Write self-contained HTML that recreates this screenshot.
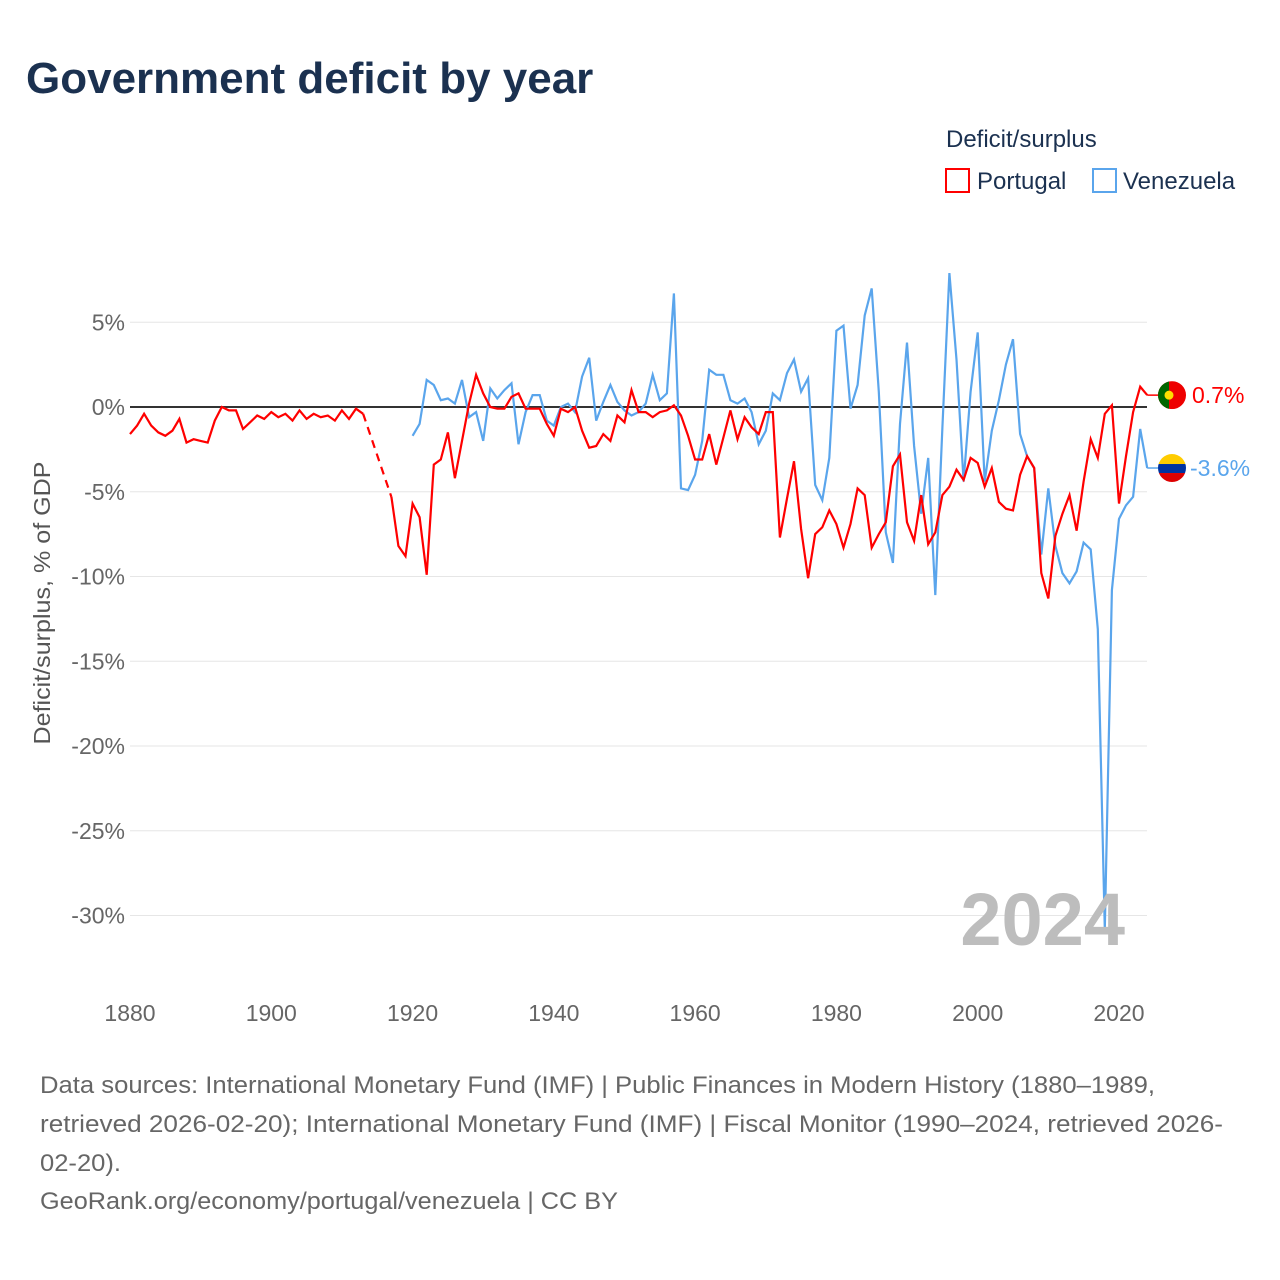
<!DOCTYPE html>
<html><head><meta charset="utf-8"><style>
body{margin:0;width:1280px;height:1280px;background:#fff;font-family:"Liberation Sans",sans-serif;overflow:hidden}
</style></head><body>
<svg width="1280" height="1280" style="position:absolute;left:0;top:0;font-family:'Liberation Sans',sans-serif">
<text x="26" y="93" font-size="44" font-weight="bold" fill="#1b3150">Government deficit by year</text>
<text x="946" y="147" font-size="24" fill="#1b3150">Deficit/surplus</text>
<g><rect x="946" y="169" width="23" height="23" fill="none" stroke="#f00" stroke-width="2"/><text x="977" y="189" font-size="24" fill="#1b3150">Portugal</text></g>
<g><rect x="1093" y="169" width="23" height="23" fill="none" stroke="#5aa5ec" stroke-width="2"/><text x="1123" y="189" font-size="24" fill="#1b3150">Venezuela</text></g>
<g id="grid"></g><g id="series"></g>
<text x="1125" y="945" font-size="74" font-weight="bold" fill="#bdbdbd" text-anchor="end">2024</text>
<text transform="translate(50,603) rotate(-90)" font-size="23" fill="#555" text-anchor="middle" textLength="283" lengthAdjust="spacingAndGlyphs">Deficit/surplus, % of GDP</text>
<g font-size="24" fill="#666">
<text x="40" y="1093" textLength="1115" lengthAdjust="spacingAndGlyphs">Data sources: International Monetary Fund (IMF) | Public Finances in Modern History (1880–1989,</text>
<text x="40" y="1132" textLength="1183" lengthAdjust="spacingAndGlyphs">retrieved 2026-02-20); International Monetary Fund (IMF) | Fiscal Monitor (1990–2024, retrieved 2026-</text>
<text x="40" y="1171" textLength="81" lengthAdjust="spacingAndGlyphs">02-20).</text>
<text x="40" y="1209" textLength="578" lengthAdjust="spacingAndGlyphs">GeoRank.org/economy/portugal/venezuela | CC BY</text>
</g>
</svg>
<script>
const yTicks=[5,0,-5,-10,-15,-20,-25,-30];
const xTicks=[1880,1900,1920,1940,1960,1980,2000,2020];
const ptA=[-1.6,-1.1,-0.4,-1.1,-1.5,-1.7,-1.4,-0.7,-2.1,-1.9,-2.0,-2.1,-0.8,0.0,-0.2,-0.2,-1.3,-0.9,-0.5,-0.7,-0.3,-0.6,-0.4,-0.8,-0.2,-0.7,-0.4,-0.6,-0.5,-0.8,-0.2,-0.7,-0.1,-0.4];
const ptB=[-5.3,-8.2,-8.8,-5.7,-6.5,-9.9,-3.4,-3.1,-1.5,-4.2,-2.0,0.2,1.9,0.8,0.0,-0.1,-0.1,0.6,0.8,-0.1,-0.1,-0.1,-1.0,-1.7,-0.1,-0.3,0.0,-1.4,-2.4,-2.3,-1.6,-2.0,-0.5,-0.9,1.0,-0.3,-0.3,-0.6,-0.3,-0.2,0.1,-0.5,-1.7,-3.1,-3.1,-1.6,-3.4,-1.8,-0.2,-1.9,-0.6,-1.2,-1.6,-0.3,-0.3,-7.7,-5.4,-3.2,-7.2,-10.1,-7.5,-7.1,-6.1,-6.9,-8.3,-6.9,-4.8,-5.2,-8.3,-7.5,-6.8,-3.5,-2.8,-6.8,-7.9,-5.2,-8.1,-7.4,-5.2,-4.7,-3.7,-4.3,-3.0,-3.3,-4.7,-3.6,-5.6,-6.0,-6.1,-4.0,-2.9,-3.6,-9.8,-11.3,-7.6,-6.3,-5.2,-7.3,-4.4,-1.9,-3.0,-0.4,0.1,-5.7,-2.9,-0.3,1.2,0.7];
const ve=[-1.7,-1.0,1.6,1.3,0.4,0.5,0.2,1.6,-0.6,-0.3,-2.0,1.1,0.5,1.0,1.4,-2.2,-0.3,0.7,0.7,-0.8,-1.1,0.0,0.2,-0.3,1.8,2.9,-0.8,0.3,1.3,0.3,-0.2,-0.5,-0.3,0.2,1.9,0.4,0.8,6.7,-4.8,-4.9,-4.0,-2.0,2.2,1.9,1.9,0.4,0.2,0.5,-0.3,-2.2,-1.4,0.8,0.4,2.0,2.8,0.9,1.7,-4.6,-5.5,-3.0,4.5,4.8,-0.1,1.3,5.4,7.0,0.9,-7.4,-9.2,-1.0,3.8,-2.3,-6.3,-3.0,-11.1,-1.2,7.9,2.8,-4.4,0.9,4.4,-4.4,-1.4,0.4,2.5,4.0,-1.6,-2.9,-3.6,-8.7,-4.8,-8.2,-9.8,-10.4,-9.7,-8.0,-8.4,-13.1,-30.8,-10.8,-6.6,-5.8,-5.3,-1.3,-3.6];
const NS='http://www.w3.org/2000/svg';
const X=y=>130+(y-1880)*7.064, Y=v=>407-v*16.95;
const grid=document.getElementById('grid'), ser=document.getElementById('series');
function mk(t,a,p){const e=document.createElementNS(NS,t);for(const k in a)e.setAttribute(k,a[k]);p.appendChild(e);return e;}
yTicks.forEach(v=>{
 const l=mk('line',{x1:130,x2:1147,y1:Y(v),y2:Y(v),stroke:v===0?'#333':'#e6e6e6','stroke-width':v===0?2:1},grid);
 
 
 const t=mk('text',{x:125,y:Y(v)+8,'font-size':23,fill:'#666','text-anchor':'end'},grid);
 t.textContent=v+'%';
 
 
});
xTicks.forEach(v=>{
 const t=mk('text',{x:X(v),y:1021,'font-size':23,fill:'#666','text-anchor':'middle'},grid);
 t.textContent=v;
 
 
});
function path(arr,start){return arr.map((v,i)=>(i?'L':'M')+X(start+i).toFixed(1)+','+Y(v).toFixed(1)).join('');}
let p=mk('path',{d:path(ptA,1880),fill:'none',stroke:'#f00','stroke-width':2.2},ser);


p=mk('path',{d:'M'+X(1913)+','+Y(ptA[ptA.length-1])+'L'+X(1917)+','+Y(ptB[0]),fill:'none',stroke:'#f00','stroke-width':2.2,'stroke-dasharray':'8,6'},ser);


p=mk('path',{d:path(ve,1920),fill:'none',stroke:'#5aa5ec','stroke-width':2.2},ser);


p=mk('path',{d:path(ptB,1917),fill:'none',stroke:'#f00','stroke-width':2.2},ser);


const lp=ptB[ptB.length-1], lv=ve[ve.length-1];
mk('line',{x1:X(2024),x2:1158,y1:Y(lp),y2:Y(lp),stroke:'#f00','stroke-width':1.5},ser);
mk('line',{x1:X(2024),x2:1158,y1:Y(lv),y2:Y(lv),stroke:'#5aa5ec','stroke-width':1.5},ser);
let g=mk('g',{},ser);


mk('clipPath',{id:'cp1'},g);mk('circle',{cx:1172,cy:Y(lp),r:14},g.firstChild);
mk('rect',{x:1158,y:Y(lp)-14,width:28,height:28,fill:'#e00','clip-path':'url(#cp1)'},g);
mk('rect',{x:1158,y:Y(lp)-14,width:11,height:28,fill:'#060','clip-path':'url(#cp1)'},g);
mk('circle',{cx:1169,cy:Y(lp),r:4.5,fill:'#fd0'},g);
g=mk('g',{},ser);


mk('clipPath',{id:'cp2'},g);mk('circle',{cx:1172,cy:Y(lv),r:14},g.firstChild);
mk('rect',{x:1158,y:Y(lv)-14,width:28,height:10,fill:'#fc0','clip-path':'url(#cp2)'},g);
mk('rect',{x:1158,y:Y(lv)-4,width:28,height:9,fill:'#0033a0','clip-path':'url(#cp2)'},g);
mk('rect',{x:1158,y:Y(lv)+5,width:28,height:10,fill:'#d00','clip-path':'url(#cp2)'},g);
let t=mk('text',{x:1192,y:Y(lp)+8,'font-size':23,fill:'#f00'},ser);t.textContent=lp+'%';


t=mk('text',{x:1190,y:Y(lv)+8,'font-size':23,fill:'#5aa5ec'},ser);t.textContent=lv+'%';


</script>
</body></html>
